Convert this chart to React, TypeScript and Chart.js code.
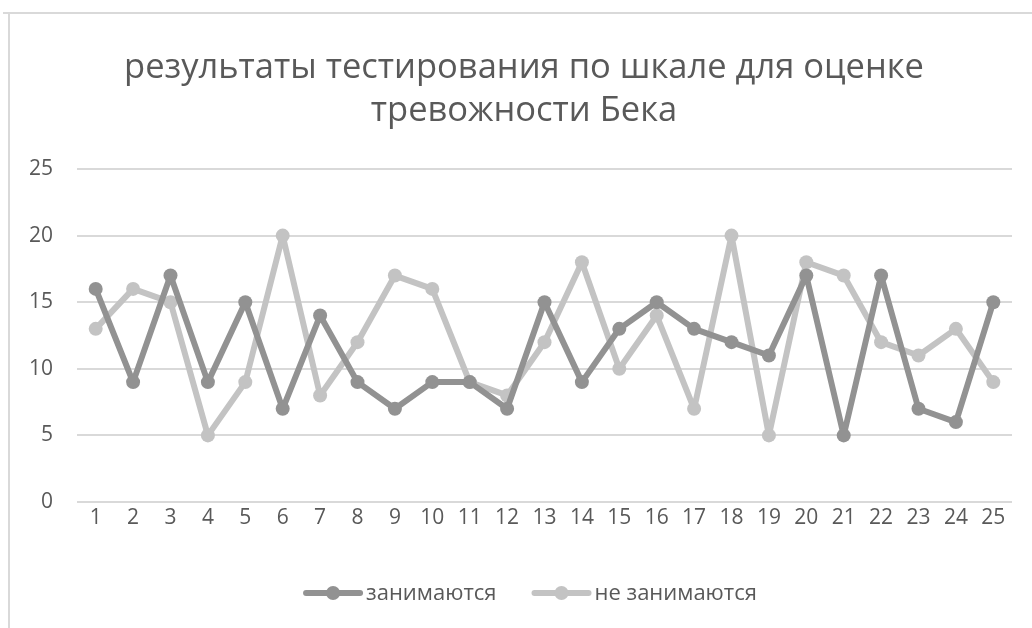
import React, { useEffect, useRef } from "react";
import { Chart, registerables } from "chart.js";

Chart.register(...registerables);

const categories = ["1","2","3","4","5","6","7","8","9","10","11","12","13","14","15","16","17","18","19","20","21","22","23","24","25"];
const seriesNames = ["занимаются", "не занимаются"];
const engaged = [16, 9, 17, 9, 15, 7, 14, 9, 7, 9, 9, 7, 15, 9, 13, 15, 13, 12, 11, 17, 5, 17, 7, 6, 15];
const notEngaged = [13, 16, 15, 5, 9, 20, 8, 12, 17, 16, 9, 8, 12, 18, 10, 14, 7, 20, 5, 18, 17, 12, 11, 13, 9];
const titleLines = ["результаты тестирования по шкале для оценке", "тревожности Бека"];

const FONT = "'Open Sans', 'DejaVu Sans', sans-serif";
const TEXT = "#595959";
const DARK = "#929292";
const LIGHT = "#c3c3c3";
const GRID = "#d9d9d9";

const framePlugin = {
  id: "frame",
  beforeDraw(chart: any) {
    const ctx = chart.ctx;
    ctx.save();
    ctx.fillStyle = "#ffffff";
    ctx.fillRect(0, 0, chart.width, chart.height);
    ctx.strokeStyle = "#d9d9d9";
    ctx.lineWidth = 2;
    ctx.beginPath();
    ctx.moveTo(3, 13);
    ctx.lineTo(chart.width, 13);
    ctx.moveTo(9, 13);
    ctx.lineTo(9, chart.height);
    ctx.stroke();
    // title
    ctx.fillStyle = TEXT;
    ctx.font = `34.5px ${FONT}`;
    ctx.textAlign = "center";
    ctx.textBaseline = "middle";
    ctx.fillText(titleLines[0], 524, 68);
    ctx.fillText(titleLines[1], 524, 111);
    ctx.restore();
  },
  afterDraw(chart: any) {
    const ctx = chart.ctx;
    ctx.save();
    ctx.font = `22px ${FONT}`;
    const lineLen = 60;
    const gap = 3;
    const sep = 35;
    const ds = chart.data.datasets;
    const widths = ds.map((d: any) => lineLen + gap + ctx.measureText(d.label).width);
    const total = widths.reduce((a: number, b: number) => a + b, 0) + sep * (ds.length - 1);
    let x = 530 - total / 2;
    const y = 593;
    ds.forEach((d: any, i: number) => {
      ctx.strokeStyle = d.borderColor;
      ctx.lineWidth = 6;
      ctx.lineCap = "round";
      ctx.beginPath();
      ctx.moveTo(x + 3, y);
      ctx.lineTo(x + lineLen - 3, y);
      ctx.stroke();
      ctx.fillStyle = d.borderColor;
      ctx.beginPath();
      ctx.arc(x + lineLen / 2, y, 7, 0, Math.PI * 2);
      ctx.fill();
      ctx.fillStyle = TEXT;
      ctx.textBaseline = "middle";
      ctx.textAlign = "left";
      ctx.fillText(d.label, x + lineLen + gap, y + 1);
      x += widths[i] + sep;
    });
    ctx.restore();
  },
};

export default function App() {
  const ref = useRef<HTMLCanvasElement | null>(null);
  useEffect(() => {
    if (!ref.current) return;
    const chart = new Chart(ref.current, {
      type: "line",
      data: {
        labels: categories,
        datasets: [
          {
            label: seriesNames[0],
            data: engaged,
            borderColor: DARK,
            backgroundColor: DARK,
            borderWidth: 6,
            borderJoinStyle: "round",
            borderCapStyle: "round",
            pointRadius: 7,
            pointBorderWidth: 0,
            pointBackgroundColor: DARK,
            tension: 0,
          },
          {
            label: seriesNames[1],
            data: notEngaged,
            borderColor: LIGHT,
            backgroundColor: LIGHT,
            borderWidth: 6,
            borderJoinStyle: "round",
            borderCapStyle: "round",
            pointRadius: 7,
            pointBorderWidth: 0,
            pointBackgroundColor: LIGHT,
            tension: 0,
          },
        ],
      },
      options: {
        responsive: false,
        animation: false,
        layout: { padding: { left: 0, right: 20, top: 169, bottom: 96 } },
        plugins: {
          legend: { display: false },
          tooltip: { enabled: false },
          title: { display: false },
        },
        scales: {
          x: {
            type: "category",
            offset: true,
            grid: { display: false, drawTicks: false },
            border: { display: false },
            ticks: { color: TEXT, font: { family: FONT, size: 21 }, padding: 3, maxRotation: 0, autoSkip: false },
            afterFit(scale: any) { scale.height = 30; },
          },
          y: {
            min: 0,
            max: 25,
            grid: { color: GRID, lineWidth: 2, drawTicks: false },
            border: { display: false },
            ticks: { stepSize: 5, color: TEXT, font: { family: FONT, size: 21 }, padding: 24 },
            afterFit(scale: any) { scale.width = 77; },
          },
        },
      },
      plugins: [framePlugin],
    } as any);
    return () => chart.destroy();
  }, []);
  return (
    <div style={{ position: "fixed", left: 0, top: 0, width: 1032, height: 628 }}>
      <canvas ref={ref} width={1032} height={628} style={{ display: "block" }} />
    </div>
  );
}
